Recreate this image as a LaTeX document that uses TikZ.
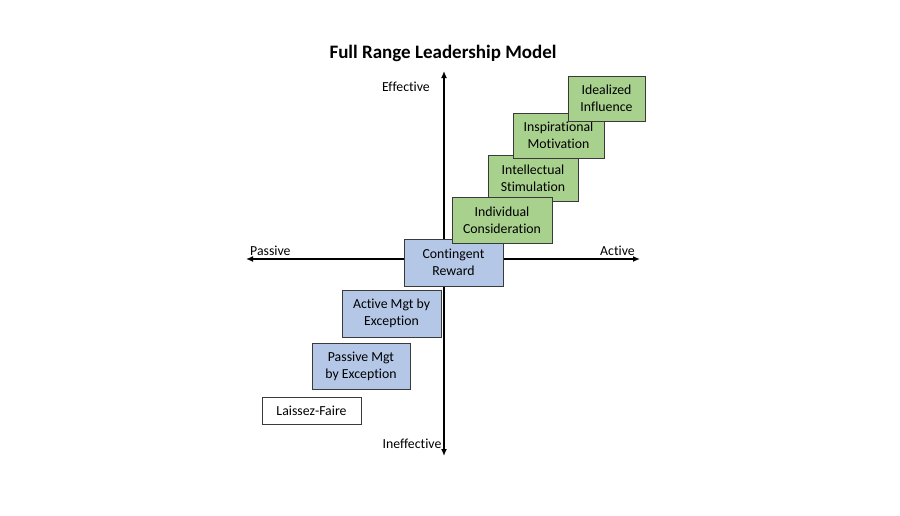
\documentclass[tikz,border=0pt]{standalone}
\usepackage{fontspec}
\setmainfont{Carlito}[Ligatures=NoCommon]
\usetikzlibrary{arrows.meta}
\definecolor{grn}{HTML}{A9D18E}
\definecolor{blu}{HTML}{B4C7E7}
\definecolor{edge}{HTML}{3A3A3A}
\tikzset{
  box/.style={draw=edge, line width=1pt, align=center, font=\fontsize{13.8}{17}\selectfont, inner sep=0pt},
  gbox/.style={box, fill=grn},
  bbox/.style={box, fill=blu},
  wbox/.style={box, fill=white},
  axis/.style={line width=1.4pt, {Latex[length=7pt,width=6pt]}-{Latex[length=7pt,width=6pt]}},
  lbl/.style={font=\fontsize{13.8}{16}\selectfont, inner sep=0pt}
}
\newcommand{\bx}[6]{\node[#1, minimum width=#4pt-#2pt, minimum height=#5pt-#3pt] (#6) at ({(#2+#4)/2},{(#3+#5)/2})}
\begin{document}
\begin{tikzpicture}[x=1pt,y=-1pt]
\useasboundingbox[fill=white] (0,0) rectangle (900,515);
\node[font=\bfseries\fontsize{19}{22}\selectfont] (title) at (443,53) {Full Range Leadership Model};
\coordinate (top) at (444,71);
\coordinate (bot) at (444,456);
\coordinate (lft) at (246,259);
\coordinate (rgt) at (640,259);
\draw[axis] (top) -- (bot);
\draw[axis] (lft) -- (rgt);
\node[lbl] (eff) at (406,87) {Effective};
\node[lbl] (ineff) at (412,444) {Ineffective};
\node[lbl, anchor=west] (pas) at (250,251) {Passive};
\node[lbl, anchor=east] (act) at (635,251) {Active};
\bx{gbox}{488}{155}{578}{201}{is} {Intellectual\\Stimulation};
\bx{bbox}{404}{239}{503}{286}{cr} {Contingent\\Reward};
\bx{gbox}{452}{197}{552}{243}{ic} {Individual\\Consideration};
\bx{gbox}{513}{113}{604}{158}{im} {Inspirational\\Motivation};
\bx{gbox}{568}{76}{645}{121}{ii} {Idealized\\Influence};
\bx{bbox}{342}{290}{441}{337}{am} {Active Mgt by\\Exception};
\bx{bbox}{312}{343}{410}{389}{pm} {Passive Mgt\\by Exception};
\bx{wbox}{262}{397}{361}{424}{lf} {Laissez-Faire};
\end{tikzpicture}
\end{document}
